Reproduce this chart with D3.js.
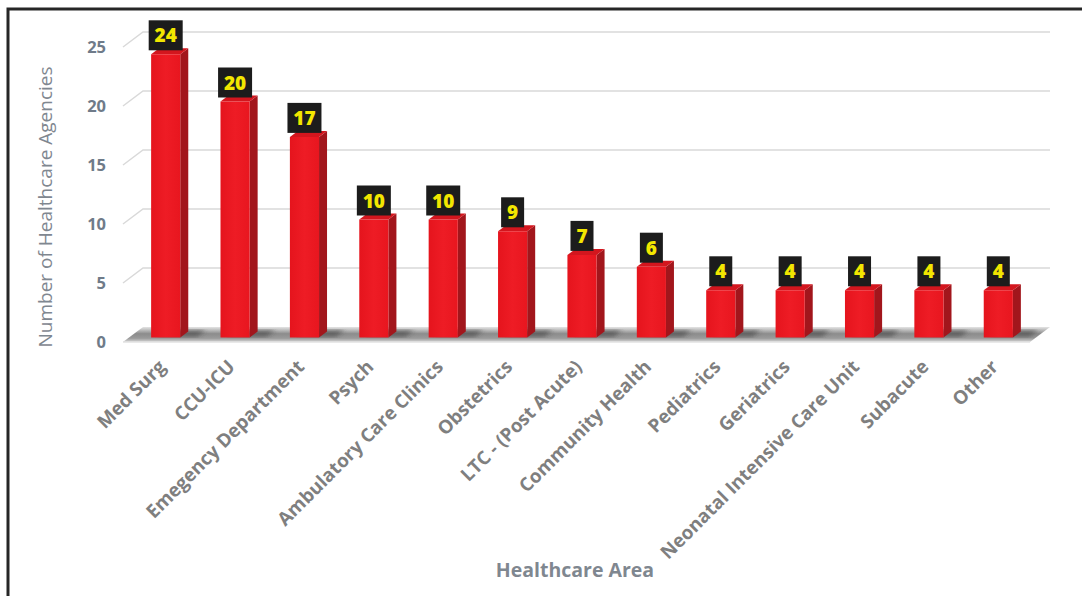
<!DOCTYPE html>
<html>
<head>
<meta charset="utf-8">
<script src="https://cdn.jsdelivr.net/npm/d3@7/dist/d3.min.js"></script>
<style>
  html, body { margin: 0; padding: 0; background: #fff; }
  svg { display: block; }
</style>
</head>
<body>
<svg id="chart" width="1082" height="596"></svg>
<script>
// ---- data ----
const categories = ["Med Surg", "CCU-ICU", "Emegency Department", "Psych", "Ambulatory Care Clinics",
  "Obstetrics", "LTC - (Post Acute)", "Community Health", "Pediatrics", "Geriatrics",
  "Neonatal Intensive Care Unit", "Subacute", "Other"];
const values = [24, 20, 17, 10, 10, 9, 7, 6, 4, 4, 4, 4, 4];
const yTicks = [0, 5, 10, 15, 20, 25];
const xTitle = "Healthcare Area";
const yTitle = "Number of Healthcare Agencies";

// ---- layout ----
const svg = d3.select("#chart");
const W = 1082, H = 596;
const DX = 20, DY = -15; // depth offset of back wall
const floorL = 123, floorR = 1030;

const y = d3.scaleLinear().domain([0, 25]).range([342, 47]);
const x = d3.scaleBand().domain(categories).range([125, 1027]).paddingInner(0.58).paddingOuter(0.29);

const proj = (px, v, d) => [px + DX * d, y(v) + DY * d];

const defs = svg.append("defs");
const fg = defs.append("linearGradient").attr("id", "floorGrad").attr("x1", 0).attr("y1", 0).attr("x2", 0).attr("y2", 1);
fg.append("stop").attr("offset", "0%").attr("stop-color", "#e4e4e4");
fg.append("stop").attr("offset", "45%").attr("stop-color", "#8c8c8c");
fg.append("stop").attr("offset", "75%").attr("stop-color", "#9a9a9a");
fg.append("stop").attr("offset", "100%").attr("stop-color", "#d6d6d6");
const bg = defs.append("linearGradient").attr("id", "barFront").attr("x1", 0).attr("y1", 0).attr("x2", 1).attr("y2", 0);
bg.append("stop").attr("offset", "0%").attr("stop-color", "#e5141d");
bg.append("stop").attr("offset", "50%").attr("stop-color", "#ee1c25");
bg.append("stop").attr("offset", "100%").attr("stop-color", "#e8161f");
defs.append("filter").attr("id", "blur").append("feGaussianBlur").attr("stdDeviation", 2);

// frame
svg.append("path").attr("d", `M8,${H} L8,9 L${W},9`).attr("fill", "none")
  .attr("stroke", "#262626").attr("stroke-width", 3);

// gridlines (back wall + left diagonal)
const grid = svg.append("g").attr("stroke", "#d9d9d9").attr("stroke-width", 1.5).attr("fill", "none");
yTicks.filter(t => t > 0).forEach(t => {
  const a = proj(floorL, t, 0), b = proj(floorL, t, 1), c = proj(floorR, t, 1);
  grid.append("path").attr("d", `M${a[0]},${a[1]} L${b[0]},${b[1]} L${c[0]},${c[1]}`);
});

// floor
{
  const a = proj(floorL, 0, 0), b = proj(floorR, 0, 0), c = proj(floorR, 0, 1), d = proj(floorL, 0, 1);
  svg.append("path").attr("d", `M${a} L${b} L${c} L${d} Z`).attr("fill", "url(#floorGrad)");
  svg.append("path").attr("d", `M${a} L${b}`).attr("stroke", "#e2e2e2").attr("stroke-width", 1.5);
}

// bar shadows
const shadows = svg.append("g").attr("filter", "url(#blur)");
categories.forEach((c, i) => {
  const x0 = x(c), w = x.bandwidth();
  const p1 = proj(x0 + 4, 0, 0.35), p2 = proj(x0 + w + 16, 0, 0.35), p3 = proj(x0 + w + 16, 0, 0.8), p4 = proj(x0 + 4, 0, 0.8);
  shadows.append("path").attr("d", `M${p1} L${p2} L${p3} L${p4} Z`).attr("fill", "#3a3a3a").attr("opacity", 0.55);
});

// bars
const dF = 0.3, dB = 0.7;
const bars = svg.append("g");
categories.forEach((c, i) => {
  const v = values[i];
  const x0 = x(c), x1 = x(c) + x.bandwidth();
  const fTL = proj(x0, v, dF), fTR = proj(x1, v, dF), fBR = proj(x1, 0, dF), fBL = proj(x0, 0, dF);
  const bTL = proj(x0, v, dB), bTR = proj(x1, v, dB), bBR = proj(x1, 0, dB);
  bars.append("path").attr("d", `M${fTR} L${bTR} L${bBR} L${fBR} Z`).attr("fill", "#a2161c");
  bars.append("path").attr("d", `M${fTL} L${bTL} L${bTR} L${fTR} Z`).attr("fill", "#d3161e");
  bars.append("path").attr("d", `M${fTL} L${fTR} L${fBR} L${fBL} Z`).attr("fill", "url(#barFront)");
});

// data labels
const labels = svg.append("g");
categories.forEach((c, i) => {
  const v = values[i];
  const cx = x(c) + x.bandwidth() / 2 + DX * dF;
  const top = y(v) + DY * dF;
  const txt = String(v);
  const bw = txt.length > 1 ? 34 : 23, bh = 30;
  const by = top - 4 - bh;
  labels.append("rect").attr("x", cx - bw / 2).attr("y", by).attr("width", bw).attr("height", bh).attr("fill", "#1c1c1c");
  labels.append("text").attr("x", cx).attr("y", by + bh / 2 + 7).attr("text-anchor", "middle")
    .attr("font-family", "Open Sans, sans-serif").attr("font-weight", 800).attr("font-size", 19)
    .attr("fill", "#f2e600").text(txt);
});

// y tick labels
svg.append("g").selectAll("text").data(yTicks).join("text")
  .attr("x", 106).attr("y", d => y(d) + 6).attr("text-anchor", "end")
  .attr("font-family", "Open Sans, sans-serif").attr("font-weight", 700).attr("font-size", 16.5)
  .attr("fill", "#6f7b89").text(d => d);

// x category labels
svg.append("g").selectAll("text").data(categories).join("text")
  .attr("transform", d => `translate(${x(d) + x.bandwidth() / 2 + DX * dF + 1},${368}) rotate(-45)`)
  .attr("text-anchor", "end")
  .attr("font-family", "Open Sans, sans-serif").attr("font-weight", 700).attr("font-size", 18.8)
  .attr("fill", "#7f7f7f").text(d => d);

// axis titles
svg.append("text").attr("x", 575).attr("y", 577).attr("text-anchor", "middle")
  .attr("font-family", "Open Sans, sans-serif").attr("font-weight", 700).attr("font-size", 19.5)
  .attr("fill", "#7f8790").text(xTitle);
svg.append("text").attr("transform", "translate(52,207) rotate(-90)").attr("text-anchor", "middle")
  .attr("font-family", "Open Sans, sans-serif").attr("font-size", 19)
  .attr("fill", "#7f8790").text(yTitle);
</script>
</body>
</html>
